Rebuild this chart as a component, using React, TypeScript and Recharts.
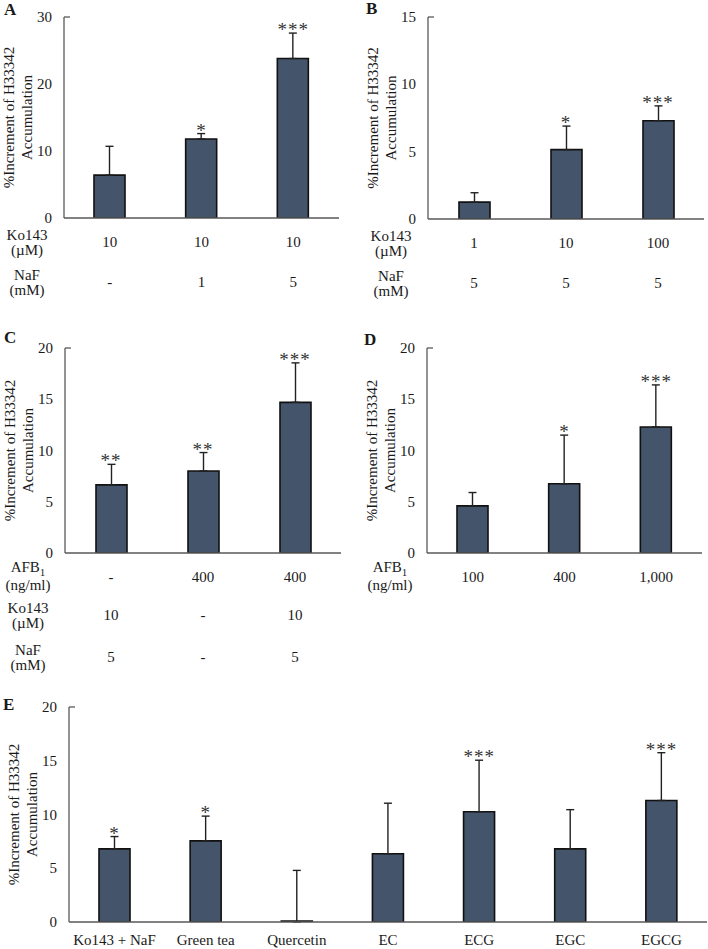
import React from "react"
import { BarChart, Bar, XAxis, YAxis, ErrorBar, ReferenceDot } from "recharts"

const FONT = "'Liberation Serif', 'Times New Roman', Times, serif"
const BAR_FILL = "#44546a"
const INK = "#1a1a1a"
const AXIS = "#595959"

// A: Ko143 + NaF
const aKeys = ["A1", "A2", "A3"]
const aKo143 = ["10", "10", "10"]
const aNaF = ["-", "1", "5"]
const aMean = [6.4, 11.8, 23.8]
const aSD = [4.3, 0.8, 3.8]
const aSig = ["", "*", "***"]
const aTicks = [0, 10, 20, 30]

// B: Ko143 dose
const bKeys = ["B1", "B2", "B3"]
const bKo143 = ["1", "10", "100"]
const bNaF = ["5", "5", "5"]
const bMean = [1.25, 5.15, 7.3]
const bSD = [0.7, 1.75, 1.1]
const bSig = ["", "*", "***"]
const bTicks = [0, 5, 10, 15]

// C: AFB1 combos
const cKeys = ["C1", "C2", "C3"]
const cAFB = ["-", "400", "400"]
const cKo143 = ["10", "-", "10"]
const cNaF = ["5", "-", "5"]
const cMean = [6.65, 8.0, 14.7]
const cSD = [2.0, 1.8, 3.85]
const cSig = ["**", "**", "***"]
const cTicks = [0, 5, 10, 15, 20]

// D: AFB1 dose
const dKeys = ["D1", "D2", "D3"]
const dAFB = ["100", "400", "1,000"]
const dMean = [4.6, 6.75, 12.3]
const dSD = [1.3, 4.75, 4.1]
const dSig = ["", "*", "***"]
const dTicks = [0, 5, 10, 15, 20]

// E: compounds
const eNames = ["Ko143 + NaF", "Green tea", "Quercetin", "EC", "ECG", "EGC", "EGCG"]
const eMean = [6.8, 7.55, 0, 6.35, 10.25, 6.8, 11.3]
const eSD = [1.15, 2.3, 4.8, 4.7, 4.8, 3.65, 4.45]
const eSig = ["*", "*", "", "", "***", "", "***"]
const eTicks = [0, 5, 10, 15, 20]

const makeData = (keys: string[], mean: number[], sd: number[], sig: string[]) =>
  keys.map((key, i) => ({
    key,
    value: mean[i],
    err: [0, sd[i]],
    top: mean[i] + sd[i],
    sig: sig[i],
  }))

type Row = { head: string[]; values: string[] }

const txt = { fontFamily: FONT, fontSize: 15, fill: INK }

// "AFB_1" -> AFB with subscript 1
const withSub = (s: string) => {
  const [main, sub] = s.split("_")
  if (!sub) return s
  return (
    <>
      {main}
      <tspan dy={4} fontSize={11}>{sub}</tspan>
    </>
  )
}

const BarShape = (p: any) => {
  const { x, y, width, height } = p
  const h = Math.max(height, 0)
  return (
    <path
      d={`M${x},${y + h}V${y}H${x + width}V${y + h}Z`}
      fill={BAR_FILL}
      stroke="#111"
      strokeWidth={1.6}
    />
  )
}

interface PanelProps {
  left: number
  top: number
  width: number
  height: number
  marginTop: number
  marginRight: number
  yWidth: number
  xHeight: number
  data: ReturnType<typeof makeData>
  ticks: number[]
  rows?: Row[]
  rowCenters?: number[]
  labels?: string[]
  letter: string
  letterPos: [number, number]
}

function Panel(props: PanelProps) {
  const { left, top, width, height, marginTop, marginRight, yWidth, xHeight, data, ticks, rows, rowCenters, labels, letter, letterPos } = props
  const yMax = ticks[ticks.length - 1]

  const XTick = (p: any) => {
    const i = p.index ?? p.payload?.index
    if (labels) {
      return (
        <text x={p.x} y={p.y + 23} textAnchor="middle" {...txt}>
          {labels[i]}
        </text>
      )
    }
    return (
      <g>
        {rows!.map((r, k) => (
          <text key={k} x={p.x} y={p.y + rowCenters![k] + 5} textAnchor="middle" {...txt}>
            {r.values[i]}
          </text>
        ))}
        {i === 0 &&
          rows!.map((r, k) => {
            const hasSub = r.head[0].includes("_")
            return (
              <g key={"h" + k}>
                <text x={yWidth - 37} y={p.y + rowCenters![k] - 2 - (hasSub ? 3 : 0)} textAnchor="middle" {...txt}>
                  {withSub(r.head[0])}
                </text>
                <text x={yWidth - 37} y={p.y + rowCenters![k] + 13} textAnchor="middle" {...txt}>
                  {r.head[1]}
                </text>
              </g>
            )
          })}
      </g>
    )
  }

  const YTick = (p: any) => (
    <g>
      <text x={p.x} y={p.y} dy={5} textAnchor="end" {...txt}>
        {p.payload.value}
      </text>
      {p.payload.value === yMax && (
        <line x1={p.x + 12} x2={p.x + 18} y1={p.y} y2={p.y} stroke={AXIS} strokeWidth={1.3} />
      )}
    </g>
  )

  const YLabel = (p: any) => {
    const vb = p.viewBox
    const ax = vb.x + vb.width
    const cy = vb.y + vb.height / 2
    return (
      <g>
        <text transform={`translate(${ax - 55},${cy}) rotate(-90)`} textAnchor="middle" dominantBaseline="central" {...txt}>
          %Increment of H33342
        </text>
        <text transform={`translate(${ax - 37},${cy}) rotate(-90)`} textAnchor="middle" dominantBaseline="central" {...txt}>
          Accumulation
        </text>
        <text x={letterPos[0]} y={letterPos[1]} fontFamily={FONT} fontSize={17} fontWeight="bold" fill={INK}>
          {letter}
        </text>
      </g>
    )
  }

  return (
    <div style={{ position: "absolute", left, top, width, height }}>
      <BarChart
        width={width}
        height={height}
        data={data}
        margin={{ top: marginTop, right: marginRight, bottom: 0, left: 0 }}
      >
        <XAxis
          dataKey="key"
          height={xHeight}
          interval={0}
          tickSize={0}
          tickMargin={0}
          tickLine={false}
          axisLine={{ stroke: AXIS, strokeWidth: 1.3 }}
          tick={XTick}
        />
        <YAxis
          width={yWidth}
          domain={[0, yMax]}
          ticks={ticks}
          allowDataOverflow
          tickSize={0}
          tickMargin={12}
          tickLine={false}
          axisLine={{ stroke: AXIS, strokeWidth: 1.3 }}
          tick={YTick}
          label={{ content: YLabel }}
        />
        <Bar dataKey="value" barSize={31} minPointSize={1} isAnimationActive={false} shape={BarShape}>
          <ErrorBar dataKey="err" direction="y" width={4} stroke="#222" strokeWidth={1.4} isAnimationActive={false} />
        </Bar>
        {data
          .filter((d) => d.sig)
          .map((d) => (
            <ReferenceDot
              key={d.key}
              x={d.key}
              y={d.top}
              r={0}
              shape={(s: any) => (
                <text
                  x={s.cx}
                  y={s.cy + 3}
                  textAnchor="middle"
                  fontFamily={FONT}
                  fontSize={19}
                  letterSpacing={1}
                  fill="#333"
                >
                  {d.sig}
                </text>
              )}
            />
          ))}
      </BarChart>
    </div>
  )
}

export default function App() {
  return (
    <div style={{ position: "absolute", left: 0, top: 0, width: 708, height: 949, background: "#fff" }}>
      <Panel
        left={0} top={0} width={354} height={300}
        marginTop={17} marginRight={15} yWidth={64} xHeight={82}
        data={makeData(aKeys, aMean, aSD, aSig)} ticks={aTicks}
        rows={[
          { head: ["Ko143", "(µM)"], values: aKo143 },
          { head: ["NaF", "(mM)"], values: aNaF },
        ]}
        rowCenters={[24, 64]}
        letter="A" letterPos={[4, 15]}
      />
      <Panel
        left={354} top={0} width={354} height={300}
        marginTop={17} marginRight={4} yWidth={74} xHeight={81}
        data={makeData(bKeys, bMean, bSD, bSig)} ticks={bTicks}
        rows={[
          { head: ["Ko143", "(µM)"], values: bKo143 },
          { head: ["NaF", "(mM)"], values: bNaF },
        ]}
        rowCenters={[24, 64]}
        letter="B" letterPos={[12, 14]}
      />
      <Panel
        left={0} top={320} width={354} height={360}
        marginTop={28} marginRight={13} yWidth={65} xHeight={127}
        data={makeData(cKeys, cMean, cSD, cSig)} ticks={cTicks}
        rows={[
          { head: ["AFB_1", "(ng/ml)"], values: cAFB },
          { head: ["Ko143", "(µM)"], values: cKo143 },
          { head: ["NaF", "(mM)"], values: cNaF },
        ]}
        rowCenters={[24, 62, 104]}
        letter="C" letterPos={[4, 23]}
      />
      <Panel
        left={354} top={320} width={354} height={360}
        marginTop={28} marginRight={6} yWidth={73} xHeight={127}
        data={makeData(dKeys, dMean, dSD, dSig)} ticks={dTicks}
        rows={[{ head: ["AFB_1", "(ng/ml)"], values: dAFB }]}
        rowCenters={[24]}
        letter="D" letterPos={[10, 25]}
      />
      <Panel
        left={0} top={690} width={708} height={259}
        marginTop={17} marginRight={1} yWidth={69} xHeight={27}
        data={makeData(eNames, eMean, eSD, eSig)} ticks={eTicks}
        labels={eNames}
        letter="E" letterPos={[3, 20]}
      />
    </div>
  )
}
